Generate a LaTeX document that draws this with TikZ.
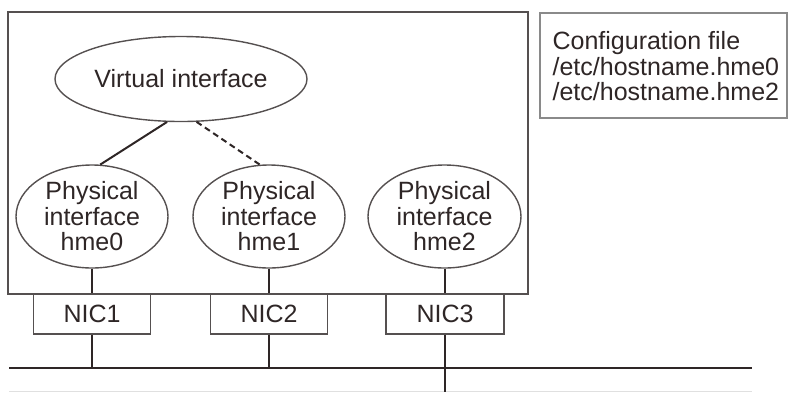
\documentclass[tikz,border=0pt]{standalone}
\usepackage{fontspec}
\setmainfont{Liberation Sans}
\usetikzlibrary{shapes.geometric}
\definecolor{ink}{HTML}{2E2626}
\definecolor{boxline}{HTML}{555050}
\definecolor{cfgline}{HTML}{8A8A8A}
\begin{document}
\begin{tikzpicture}[x=1pt,y=-1pt,
  every node/.style={font=\fontsize{25}{25.5}\selectfont, text=ink},
  ell/.style={draw=boxline, line width=1.4pt, ellipse, inner sep=0pt},
  nicbox/.style={draw=boxline, line width=1.4pt, rectangle, minimum width=117pt, minimum height=40pt, inner sep=0pt},
  conn/.style={draw=ink, line width=2pt},
  dashconn/.style={draw=ink, line width=2pt, dash pattern=on 6pt off 4pt},
]
\useasboundingbox (0,0) rectangle (788,392);
% faint line at bottom edge
\draw[color=black!12, line width=1pt] (9,391.5) -- (752,391.5);
% main box
\draw[boxline, line width=1.4pt] (8,12) rectangle (528,294);
% config box
\node[draw=cfgline, line width=1.2pt, minimum width=247pt, minimum height=105pt, inner sep=0pt] (cfg) at (663.5,65.5) {};
\node[anchor=west, align=left, inner sep=0pt] (cfgtext) at ([xshift=13pt,yshift=-1pt]cfg.west) {Configuration file\\/etc/hostname.hme0\\/etc/hostname.hme2};
% ellipses
\node[ell, minimum width=252pt, minimum height=85pt] (v) at (181,79) {Virtual interface};
\node[ell, minimum width=152pt, minimum height=103pt, align=center] (p0) at (92,216.5) {Physical\\interface\\hme0};
\node[ell, minimum width=152pt, minimum height=103pt, align=center] (p1) at (269,216.5) {Physical\\interface\\hme1};
\node[ell, minimum width=153pt, minimum height=103pt, align=center] (p2) at (444.5,216.5) {Physical\\interface\\hme2};
% NICs
\node[nicbox] (n1) at (92,314) {NIC1};
\node[nicbox] (n2) at (269,314) {NIC2};
\node[nicbox, minimum width=118pt] (n3) at (445,314) {NIC3};
% bus
\coordinate (busL) at (9,368);
\coordinate (busR) at (752,368);
\coordinate (bot) at (445,392);
\draw[conn] (busL) -- (busR);
% connections
\draw[conn] (v.252) -- (p0.81);
\draw[dashconn] (v.290) -- (p1.100);
\draw[conn] (p0.south) -- (n1.north);
\draw[conn] (p1.south) -- (n2.north);
\draw[conn] (p2.south -| n3.north) -- (n3.north);
\draw[conn] (n1.south) -- (n1.south |- busL);
\draw[conn] (n2.south) -- (n2.south |- busL);
\draw[conn] (n3.south) -- (bot);
\end{tikzpicture}
\end{document}
